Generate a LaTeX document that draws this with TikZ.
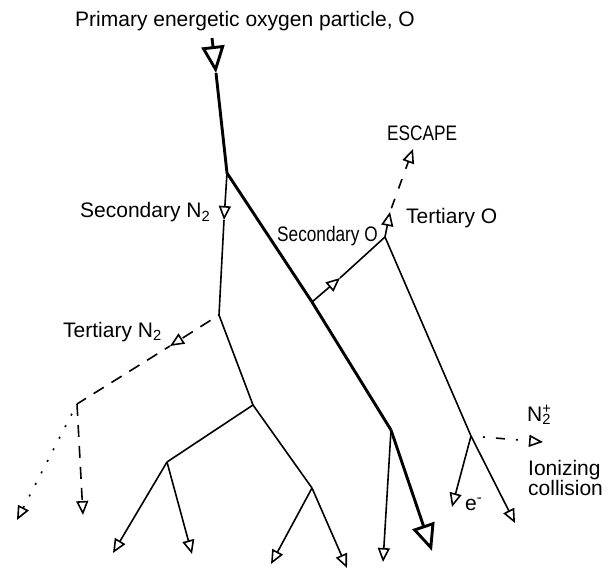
\documentclass[tikz,border=0pt]{standalone}
\usepackage{fontspec}
\setmainfont{Liberation Sans}
\newfontfamily\narrowfont[FakeStretch=0.82]{Liberation Sans}
\usepackage{tikz}
\usetikzlibrary{arrows.meta}

\tikzset{
  ray/.style={line width=1.6pt},
  heavyray/.style={line width=2.9pt},
  dashray/.style={ray, dash pattern=on 12pt off 9pt},
  dotray/.style={ray, dash pattern=on 2pt off 11pt, dash phase=2pt},
  tri/.tip={Triangle[open, length=14pt, width=12pt]},
  bigtri/.tip={Triangle[open, length=27pt, width=23pt]},
  lbl/.style={font=\fontsize{21}{21}\selectfont, inner sep=0pt, anchor=base west},
  narrowlbl/.style={font=\fontsize{21}{21}\selectfont\narrowfont, inner sep=0pt, anchor=base west}
}

\begin{document}
\begin{tikzpicture}[x=1pt, y=-1pt]
\useasboundingbox (0,0) rectangle (607,569);
\fill[white] (0,0) rectangle (607,569);

% collision points
\coordinate (start) at (212,38);
\coordinate (ptip)  at (216,73);
\coordinate (j1)    at (227,173);
\coordinate (s2tip) at (224,220);
\coordinate (b0)    at (219,315);
\coordinate (t2tip) at (170,346);
\coordinate (c0)    at (77,404);
\coordinate (t2end) at (83,515);
\coordinate (dotend) at (17,520);
\coordinate (b1)    at (253,405);
\coordinate (b2)    at (167,462);
\coordinate (b3)    at (312,488);
\coordinate (e1)    at (113,553);
\coordinate (e2)    at (192,554);
\coordinate (e3)    at (271,564);
\coordinate (e4)    at (347,568);
\coordinate (j2)    at (312,302);
\coordinate (b4)    at (391,430);
\coordinate (bigend) at (432,551);
\coordinate (e5)    at (383,562);
\coordinate (sotip) at (340,278);
\coordinate (j3)    at (385,237);
\coordinate (totip) at (390,212);
\coordinate (escend) at (413,149);
\coordinate (b5)    at (471,436);
\coordinate (etip)  at (452,507);
\coordinate (e6)    at (515,523);
\coordinate (npend) at (543,442);

% labels
\node[lbl] (primlbl) at (75,27) {Primary energetic oxygen particle, O};
\node[narrowlbl] (esclbl) at (387,141) {ESCAPE};
\node[lbl] (sn2lbl) at (80,218) {Secondary N\textsubscript{2}};
\node[narrowlbl] (solbl) at (277,241) {Secondary O};
\node[lbl] (tolbl) at (406,224) {Tertiary O};
\node[lbl] (tn2lbl) at (63,337) {Tertiary N\textsubscript{2}};
\node[lbl] (nplbl) at (527,421) {N\rlap{\textsuperscript{+}}\textsubscript{2}};
\node[lbl] (ionlbl) at (528,475) {Ionizing};
\node[lbl] (collbl) at (528,495) {collision};
\node[lbl] (elbl) at (465,510) {e\textsuperscript{-}};

% ---- primary O ----
\draw[heavyray, -bigtri] (start) -- (ptip);
\draw[heavyray] (ptip) -- (j1) -- (j2) -- (b4);
\draw[heavyray, -bigtri] (b4) -- (bigend);
\draw[ray, -tri] (b4) -- (e5);

% ---- secondary N2 ----
\draw[ray, -tri] (j1) -- (s2tip);
\draw[ray] (s2tip) -- (b0) -- (b1);
\draw[ray] (b1) -- (b2);
\draw[ray] (b1) -- (b3);
\draw[ray, -tri] (b2) -- (e1);
\draw[ray, -tri] (b2) -- (e2);
\draw[ray, -tri] (b3) -- (e3);
\draw[ray, -tri] (b3) -- (e4);

% tertiary N2
\draw[dashray, dash phase=11pt, -tri] (b0) -- (t2tip);
\draw[dashray, dash phase=6pt] (t2tip) -- (c0);
\draw[dashray, -tri] (c0) -- (t2end);
\draw[dotray, -tri] (c0) -- (dotend);

% ---- secondary O ----
\draw[ray, -tri] (j2) -- (sotip);
\draw[ray] (sotip) -- (j3);
\draw[ray, -tri] (j3) -- (totip);
\draw[ray, dash pattern=on 10pt off 11pt, dash phase=17pt, -tri] (totip) -- (escend);
\draw[ray] (j3) -- (b5);
\draw[ray, -tri] (b5) -- (etip);
\draw[ray, -tri] (b5) -- (e6);
\draw[ray, dash pattern=on 2pt off 11pt on 9pt off 11pt on 2pt off 25pt,
      dash phase=48pt, -tri] (b5) -- (npend);
\end{tikzpicture}
\end{document}
